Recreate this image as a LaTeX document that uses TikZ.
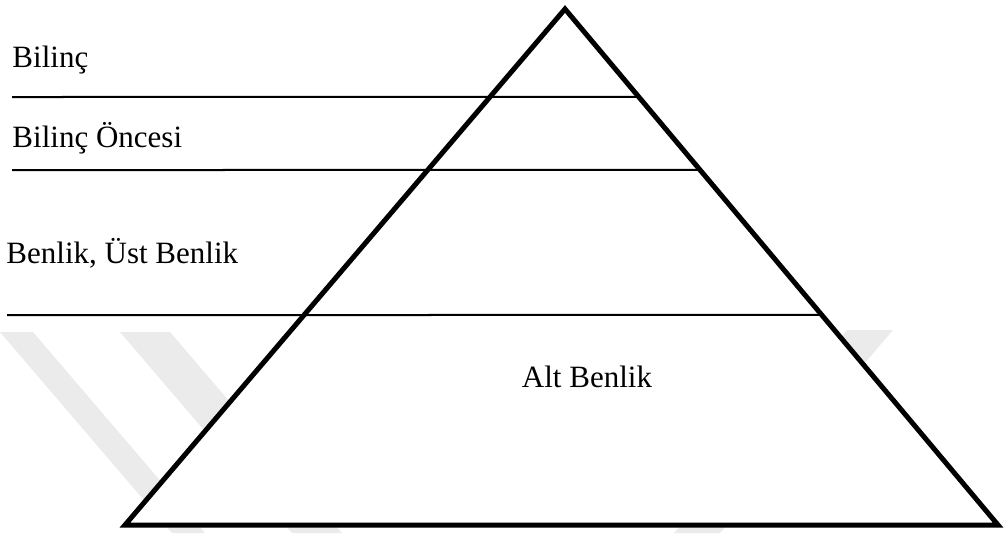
\documentclass[tikz,border=0pt]{standalone}
\usepackage{fontspec}
\setmainfont{Liberation Serif}
\usetikzlibrary{calc}
\tikzset{
  pyramid/.style={draw=black, line width=2pt, fill=white, line join=miter},
  divider/.style={draw=black, line width=0.8pt},
  levelname/.style={anchor=base west, inner sep=0pt, font=\fontsize{12.4}{15}\selectfont},
  stripe/.style={fill=black!8, draw=none}
}

\begin{document}
\begin{tikzpicture}[x=0.4pt, y=-0.4pt]
  \useasboundingbox (0,0) rectangle (1005,533);
  \begin{scope}
    \clip (0,0) rectangle (1005,533);
    \fill[stripe] (0,332) -- (33,332) -- (205,533) -- (172,533) -- cycle;
    \fill[stripe] (120,332) -- (170,332) -- (342,533) -- (292,533) -- cycle;
    \fill[stripe] (847,330) -- (893,330) -- (720,533) -- (674,533) -- cycle;
  \end{scope}

  \coordinate (apex) at (565,9);
  \coordinate (baseL) at (125,525);
  \coordinate (baseR) at (998,525);
  \draw[pyramid] (apex) -- (baseL) -- (baseR) -- cycle;

  \coordinate (d1) at (12,97);
  \coordinate (d2) at (12,170);
  \coordinate (d3) at (7,315);
  \draw[divider] (d1) -- ($(apex)!0.1705!(baseR)$);
  \draw[divider] (d2) -- ($(apex)!0.312!(baseR)$);
  \draw[divider] (d3) -- ($(apex)!0.593!(baseR)$);

  \node[levelname] (bilinc) at (12,67) {Bilinç};
  \node[levelname] (oncesi) at (12,147) {Bilinç Öncesi};
  \node[levelname] (benlik) at (6,263) {Benlik, Üst Benlik};
  \node[levelname, anchor=base] (alt) at (587,387) {Alt Benlik};
\end{tikzpicture}
\end{document}
